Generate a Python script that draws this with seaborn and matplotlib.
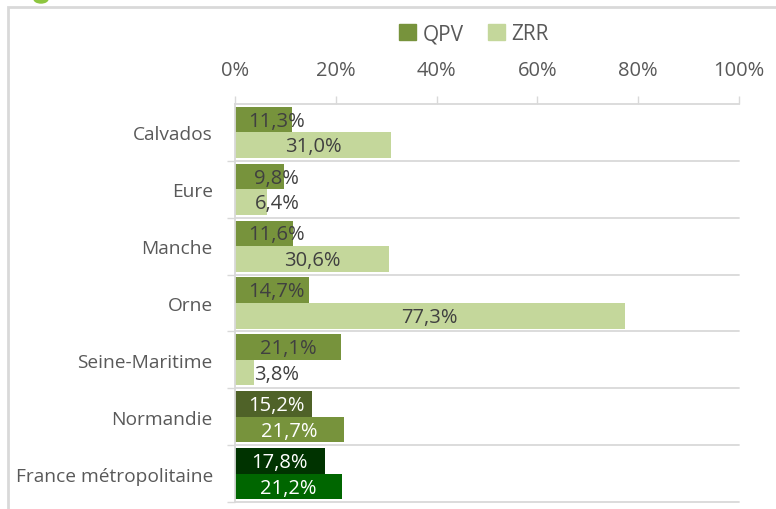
import numpy as np
import pandas as pd
import matplotlib.pyplot as plt
import seaborn as sns
from matplotlib.patches import Rectangle, Ellipse

# data
territoires = ['Calvados', 'Eure', 'Manche', 'Orne', 'Seine-Maritime',
               'Normandie', 'France métropolitaine']
qpv = [11.3, 9.8, 11.6, 14.7, 21.1, 15.2, 17.8]
zrr = [31.0, 6.4, 30.6, 77.3, 3.8, 21.7, 21.2]
series = ['QPV', 'ZRR']

df = pd.DataFrame({
    'territoire': territoires * 2,
    'zone': ['QPV'] * len(qpv) + ['ZRR'] * len(zrr),
    'valeur': qpv + zrr,
})

# colours: base series colours, then special ones for Normandie / France
base_cols = {'QPV': '#77933C', 'ZRR': '#C4D79B'}
special_cols = {
    'Normandie': {'QPV': '#4F6228', 'ZRR': '#77933C'},
    'France métropolitaine': {'QPV': '#003300', 'ZRR': '#006600'},
}

sns.set_theme(style='white')
plt.rcParams['font.family'] = ['Open Sans', 'DejaVu Sans']
txt_grey = '#595959'
line_grey = '#D9D9D9'

fig = plt.figure(figsize=(7.76, 5.10), dpi=100)
ax = fig.add_axes([235 / 776, 1 - 503 / 510, (739 - 235) / 776, (503 - 105) / 510])

sns.barplot(data=df, y='territoire', x='valeur', hue='zone', orient='h',
            palette=base_cols, width=0.9, gap=0, saturation=1, ax=ax,
            legend=False, order=territoires, hue_order=series)

# recolour the last two groups and add labels
for cont, name, vals in zip(ax.containers, series, [qpv, zrr]):
    for i, (bar, v) in enumerate(zip(cont, vals)):
        terr = territoires[i]
        col = base_cols[name]
        tcol = '#404040'
        if terr in special_cols:
            col = special_cols[terr][name]
            tcol = 'white'
        bar.set_facecolor(col)
        bar.set_edgecolor('none')
        cy = bar.get_y() + bar.get_height() / 2
        ax.text(max(v / 2, 8.3), cy + 0.02, f'{v:.1f}%'.replace('.', ','),
                ha='center', va='center', fontsize=14.5, color=tcol)

ax.set_xlim(0, 100)
ax.set_ylim(len(territoires) - 0.5, -0.5)
ax.xaxis.tick_top()
ax.set_xticks(np.arange(0, 101, 20))
ax.set_xticklabels([f'{t}%' for t in range(0, 101, 20)])
ax.tick_params(axis='x', which='major', top=True, bottom=False, length=6,
               width=1, color=line_grey, labelsize=14.5, labelcolor=txt_grey, pad=11)
ax.tick_params(axis='y', which='major', left=False, labelsize=13.8,
               labelcolor=txt_grey, pad=10)
ax.set_yticks(np.arange(len(territoires)) + 0.5, minor=True)
ax.tick_params(axis='y', which='minor', left=True, length=6, width=1, color=line_grey)
ax.set_xlabel('')
ax.set_ylabel('')

for s in ['right', 'bottom']:
    ax.spines[s].set_visible(False)
for s in ['top', 'left']:
    ax.spines[s].set_color(line_grey)
    ax.spines[s].set_linewidth(1.3)
for yb in np.arange(len(territoires)) + 0.5:
    ax.axhline(yb, color=line_grey, lw=1.3, zorder=0, clip_on=False)

# legend
handles = [Rectangle((0, 0), 1, 1, color=base_cols[s]) for s in series]
fig.legend(handles, series, loc='center', bbox_to_anchor=(474 / 776, 1 - 35 / 510),
           ncol=2, frameon=False, fontsize=15, handlelength=0.8, handleheight=0.8,
           handletextpad=0.3, columnspacing=1.2, labelcolor=txt_grey)

# outer frame and cut-off title marker
fig.patches.append(Rectangle((8 / 776, -0.1), 1.2, 1 - 8 / 510 + 0.1,
                             transform=fig.transFigure, fill=False,
                             edgecolor=line_grey, lw=2))
fig.patches.append(Ellipse((41 / 776, 1.0), 14 / 776, 8 / 510,
                           transform=fig.transFigure, color='#8DC63F'))

fig.savefig('out.png', dpi=100)
